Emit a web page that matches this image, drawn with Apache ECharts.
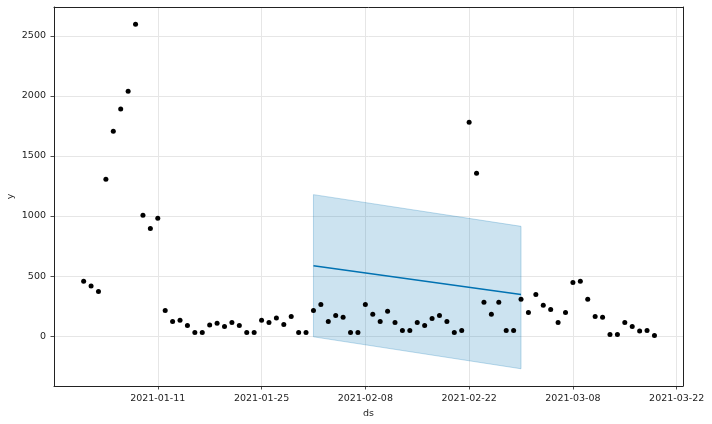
<!DOCTYPE html>
<html>
<head>
<meta charset="utf-8">
<script src="https://cdn.jsdelivr.net/npm/echarts@6/dist/echarts.min.js"></script>
<style>html,body{margin:0;padding:0;background:#fff}#c{width:712px;height:424px}</style>
</head>
<body>
<div id="c"></div>
<script>
// Observed data: daily from 2021-01-01 to 2021-03-19
const firstDate = '2021-01-01';
const y = [456,417,372,1306,1706,1892,2039,2597,1006,897,981,214,122,131,89,31,31,92,106,81,114,89,31,31,
  131,114,150,97,164,31,31,214,264,122,172,156,31,31,264,181,122,206,114,47,47,114,89,147,172,122,31,47,
  1781,1356,281,181,281,47,47,306,197,347,256,222,114,197,447,456,306,164,156,14,14,114,81,42,47,6];
// Forecast
const forecastDates = ['2021-02-01','2021-03-01'];
const yhat = [586,347];
const yhatLower = [-6,-272];
const yhatUpper = [1178,914];
// Tick labels
const xTickLabels = ['2021-01-11','2021-01-25','2021-02-08','2021-02-22','2021-03-08','2021-03-22'];

const DAY = 86400000;
const origin = Date.parse(xTickLabels[0] + 'T00:00:00Z');
const off = d => (Date.parse(d + 'T00:00:00Z') - origin) / DAY;
const dates = y.map((_, i) => {
  const t = new Date(Date.parse(firstDate + 'T00:00:00Z') + i * DAY);
  return t.toISOString().slice(0, 10);
});
const scatterData = y.map((v, i) => [off(dates[i]), v]);
const lineData = forecastDates.map((d, i) => [off(d), yhat[i]]);

const font = 'DejaVu Sans';
const ink = '#222';
const XMIN = -14, XMAX = 70.85, YMIN = -415.5, YMAX = 2740.5;
const frameAxis = {show: true, onZero: false, lineStyle: {color: ink, width: 1}};
const chart = echarts.init(document.getElementById('c'), null, {renderer: 'canvas'});
chart.setOption({
  animation: false,
  grid: {left: 54, right: 29, top: 7, bottom: 38, containLabel: false, outerBoundsMode: 'none'},
  xAxis: [{
    type: 'value', min: XMIN, max: XMAX, interval: 14,
    name: 'ds', nameLocation: 'middle', nameGap: 23, nameMoveOverlap: false,
    nameTextStyle: {fontFamily: font, fontSize: 9.5, color: ink},
    axisLine: frameAxis,
    axisTick: {show: true, length: 3.5, lineStyle: {color: ink, width: 0.8}},
    axisLabel: {fontFamily: font, fontSize: 9.5, color: ink, margin: 8,
      showMinLabel: false, showMaxLabel: false,
      formatter: v => { const k = Math.round(v / 14); return (Math.abs(v - k * 14) < 1e-6 && k >= 0 && k < xTickLabels.length) ? xTickLabels[k] : ''; }},
    splitLine: {show: true, lineStyle: {color: '#e6e6e6', width: 1}}
  }, {
    type: 'value', position: 'top', min: XMIN, max: XMAX, z: 5,
    axisLine: frameAxis, axisTick: {show: false}, axisLabel: {show: false}, splitLine: {show: false}
  }],
  yAxis: [{
    type: 'value', min: YMIN, max: YMAX, splitNumber: 6,
    name: 'y', nameLocation: 'middle', nameGap: 38, nameMoveOverlap: false,
    nameTextStyle: {fontFamily: font, fontSize: 9.5, color: ink},
    axisLine: frameAxis,
    axisTick: {show: true, length: 3.5, lineStyle: {color: ink, width: 0.8}},
    axisLabel: {fontFamily: font, fontSize: 9.5, color: ink, margin: 8, showMinLabel: false, showMaxLabel: false,
      formatter: v => String(v)},
    splitLine: {show: true, lineStyle: {color: '#e6e6e6', width: 1}}
  }, {
    type: 'value', position: 'right', min: YMIN, max: YMAX, z: 5,
    axisLine: frameAxis, axisTick: {show: false}, axisLabel: {show: false}, splitLine: {show: false}
  }],
  series: [
    {
      type: 'custom', z: 1, silent: true,
      data: [[0]],
      renderItem: (params, api) => {
        const pts = [];
        for (let i = 0; i < forecastDates.length; i++) pts.push(api.coord([off(forecastDates[i]), yhatUpper[i]]));
        for (let i = forecastDates.length - 1; i >= 0; i--) pts.push(api.coord([off(forecastDates[i]), yhatLower[i]]));
        return {type: 'polygon', shape: {points: pts},
          style: {fill: 'rgba(0,114,178,0.2)', stroke: 'rgba(0,114,178,0.25)', lineWidth: 1}};
      }
    },
    {
      type: 'line', z: 4, data: lineData, symbol: 'none',
      lineStyle: {color: '#0072B2', width: 1.5}
    },
    {
      type: 'scatter', z: 3, data: scatterData, symbol: 'circle', symbolSize: 5,
      itemStyle: {color: '#000', opacity: 1}
    }
  ]
});
</script>
</body>
</html>
